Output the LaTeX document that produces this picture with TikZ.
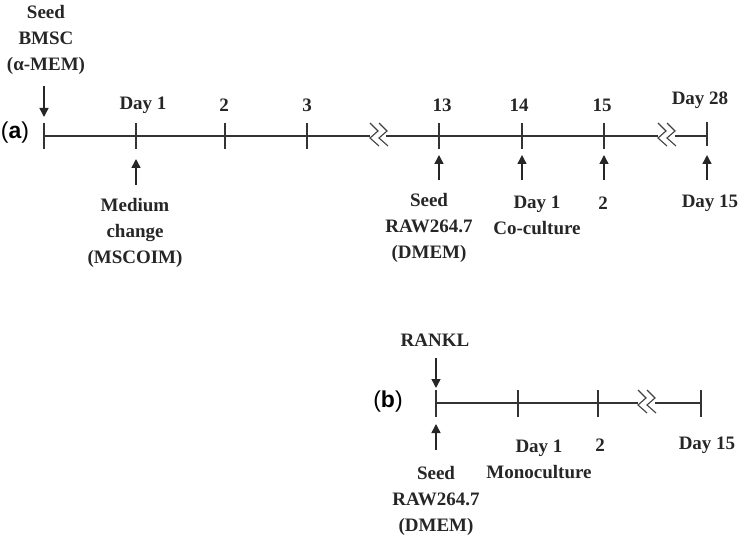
\documentclass[tikz,border=0pt]{standalone}
\usepackage{fontspec}
\setmainfont{Liberation Serif}
\newfontfamily\lblfont{Liberation Sans}
\usetikzlibrary{arrows.meta}
\begin{document}
\begin{tikzpicture}[x=1pt,y=-1pt,
 tl/.style={line width=1.1pt, draw=black!80},
 tk/.style={line width=1.2pt, draw=black!80},
 zz/.style={line width=1.1pt, draw=black!75},
 arr/.style={line width=1.4pt, draw=black!85, -{Triangle[length=9pt,width=9pt]}},
 txt/.style={font=\fontsize{19}{26}\selectfont\bfseries, align=center, inner sep=0pt, text=black!85},
 lbl/.style={font=\fontsize{23}{26}\selectfont\lblfont, inner sep=0pt}]
\useasboundingbox (0,0) rectangle (747,537);

% ---------- timeline (a) ----------
\coordinate (a0) at (44,136);
\coordinate (a1) at (136,136);
\coordinate (a2) at (225,136);
\coordinate (a3) at (307,136);
\coordinate (ab1) at (370,136);
\coordinate (ab1r) at (386,136);
\coordinate (a13) at (439,136);
\coordinate (a14) at (522,136);
\coordinate (a15) at (604,136);
\coordinate (ab2) at (658,136);
\coordinate (ab2r) at (675,136);
\coordinate (a28) at (707,136);

\draw[tl] (a0) -- (ab1);
\draw[tl] (ab1r) -- (ab2);
\draw[tl] (ab2r) -- (a28);
\foreach \t in {a0,a1,a2,a3,a13,a14,a15}
  \draw[tk] ([yshift=13pt]\t) -- ([yshift=-13pt]\t);
\draw[tk] ([yshift=14pt]a28) -- ([yshift=-10pt]a28);
\foreach \bk in {ab1,ab2}{
  \draw[zz] ([shift={(0,-13)}]\bk) -- ([shift={(8,-5)}]\bk) -- ([shift={(0,2)}]\bk) -- ([shift={(9,10)}]\bk);
  \draw[zz] ([shift={(9,-13)}]\bk) -- ([shift={(17,-5)}]\bk) -- ([shift={(9,2)}]\bk) -- ([shift={(18,10)}]\bk);
}

\node[lbl] (la) at (15,133) {(\textbf{a})};

\node[txt] (seedb) at (46,40) {Seed\\BMSC\\(α-MEM)};
\coordinate (s0) at (44,86);
\coordinate (s0e) at (44,117);
\draw[arr] (s0) -- (s0e);

\node[txt] (d1) at (143,105) {Day 1};
\node[txt] (d2) at (224,105) {2};
\node[txt] (d3) at (307,105) {3};
\node[txt] (d13) at (442,105) {13};
\node[txt] (d14) at (519,105) {14};
\node[txt] (d15) at (602,105) {15};
\node[txt] (d28) at (700,100) {Day 28};

\coordinate (m0) at (136,185);
\coordinate (m1) at (136,159);
\draw[arr] (m0) -- (m1);
\node[txt] (med) at (135,233) {Medium\\change\\(MSCOIM)};

\foreach \x/\n in {439/r,522/c,604/t,707/e}{
  \coordinate (u\n0) at (\x,180);
  \coordinate (u\n1) at (\x,155);
  \draw[arr] (u\n0) -- (u\n1);
}
\node[txt] (seedr) at (429,228) {Seed\\RAW264.7\\(DMEM)};
\node[txt] (cocul) at (537,215) {Day 1\\Co-culture};
\node[txt] (c2) at (603,203) {2};
\node[txt] (c15) at (710,203) {Day 15};

% ---------- timeline (b) ----------
\coordinate (b0) at (436,403);
\coordinate (b1) at (518,403);
\coordinate (b2) at (598,403);
\coordinate (bb) at (638,403);
\coordinate (bbr) at (655,403);
\coordinate (b15) at (701,403);

\draw[tl] (b0) -- (bb);
\draw[tl] (bbr) -- (b15);
\foreach \t in {b0,b1,b2,b15}
  \draw[tk] ([yshift=13pt]\t) -- ([yshift=-14pt]\t);
\draw[zz] ([shift={(0,-13)}]bb) -- ([shift={(8,-5)}]bb) -- ([shift={(0,2)}]bb) -- ([shift={(9,10)}]bb);
\draw[zz] ([shift={(9,-13)}]bb) -- ([shift={(17,-5)}]bb) -- ([shift={(9,2)}]bb) -- ([shift={(18,10)}]bb);

\node[lbl] (lb) at (388,402) {(\textbf{b})};

\node[txt] (rankl) at (435,340) {RANKL};
\coordinate (k0) at (436,358);
\coordinate (k1) at (436,388);
\draw[arr] (k0) -- (k1);
\coordinate (q0) at (436,450);
\coordinate (q1) at (436,424);
\draw[arr] (q0) -- (q1);
\node[txt] (seedr2) at (436,501) {Seed\\RAW264.7\\(DMEM)};
\node[txt] (mono) at (539,459) {Day 1\\Monoculture};
\node[txt] (m2) at (600,445) {2};
\node[txt] (m15) at (707,445) {Day 15};
\end{tikzpicture}
\end{document}
